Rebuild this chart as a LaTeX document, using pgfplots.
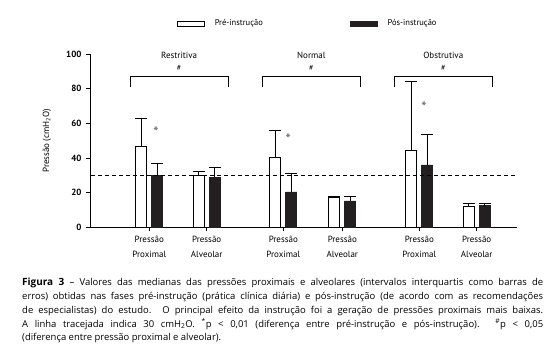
\documentclass[border=0pt]{standalone}
\usepackage{fontspec}
\setmainfont{PT Sans}
\newfontfamily\capfont{Open Sans}
\usepackage{pgfplots}
\usepackage{pgfplotstable}
\pgfplotsset{compat=1.18}
\definecolor{barblack}{RGB}{35,31,32}
\definecolor{astgray}{RGB}{100,100,100}

\pgfplotstableread{
x      y     e
-8     46.5  16.5
49.4   30.0  2.0
126    40.3  15.7
185    17.0  1.0
262    44.5  39.5
319.4  12.3  1.5
}\pretable

\pgfplotstableread{
x      y     e
8      30.0  6.7
65.4   29.0  5.5
142    20.4  10.6
201    15.2  2.8
278    36.0  17.5
335.4  12.4  1.4
}\posttable

\begin{document}
\begin{tikzpicture}
\path[use as bounding box] (0,0) rectangle (558bp,364bp);
\begin{axis}[
  at={(90bp,136.7bp)}, anchor=south west,
  scale only axis, width=426.7bp, height=173.3bp,
  xmin=-59.3, xmax=367.4, ymin=0, ymax=100,
  axis x line=bottom, axis y line=left,
  axis line style={-, line width=0.8pt, black},
  tick align=outside, major tick length=4bp,
  tick style={line width=0.8pt, black},
  ytick={0,20,40,60,80,100},
  yticklabel style={font=\fontsize{9}{10}\selectfont\bfseries, /pgf/number format/assume math mode=true, xshift=-1bp},
  xtick={0,57.4,134,193,270,327.4},
  xticklabels={{Pressão\\Proximal},{Pressão\\Alveolar},{Pressão\\Proximal},{Pressão\\Alveolar},{Pressão\\Proximal},{Pressão\\Alveolar}},
  xticklabel style={align=center, font=\fontsize{9}{15}\selectfont, yshift=-1bp},
  ylabel={Pressão (cmH\textsubscript{2}O)},
  ylabel style={at={(axis description cs:-0.101,0.5)}, anchor=center, font=\fontsize{9}{10}\selectfont},
  clip=false,
  legend columns=2,
  legend style={draw=none, fill=none, at={(rel axis cs:0.2039,1.176)}, anchor=west,
    font=\fontsize{8.5}{10}\selectfont, inner sep=0pt, outer sep=0pt,
    nodes={inner sep=0pt, outer sep=0pt},
    /tikz/every odd column/.append style={column sep=10bp},
    /tikz/every even column/.append style={column sep=87bp}},
]
\addlegendimage{legend image code/.code={\draw[black, fill=white, line width=0.8pt] (0bp,-2.5bp) rectangle (27bp,2.5bp);}}
\addlegendentry{Pré-instrução}
\addlegendimage{legend image code/.code={\draw[barblack, fill=barblack, line width=0.8pt] (0bp,-2.5bp) rectangle (27bp,2.5bp);}}
\addlegendentry{Pós-instrução}
\addplot[forget plot, ybar, bar width=11bp, bar shift=0pt, draw=black, fill=white, line width=0.8pt,
  error bars/.cd, y dir=plus, y explicit,
  error bar style={line width=0.8pt, black},
  error mark options={rotate=90, black, mark size=6bp, line width=0.8pt}]
  table[x=x, y=y, y error=e] {\pretable};
\addplot[forget plot, ybar, bar width=11bp, bar shift=0pt, draw=barblack, fill=barblack, line width=0.8pt,
  error bars/.cd, y dir=plus, y explicit,
  error bar style={line width=0.8pt, black},
  error mark options={rotate=90, black, mark size=6bp, line width=0.8pt}]
  table[x=x, y=y, y error=e] {\posttable};
% reference line at 30
\addplot[forget plot, black, line width=0.8pt, dash pattern=on 4bp off 3bp] coordinates {(-58,30) (367.4,30)};
% brackets
\addplot[forget plot, black, line width=0.8pt] coordinates {(-19.3,81) (-19.3,87) (79,87) (79,81)};
\addplot[forget plot, black, line width=0.8pt] coordinates {(113,81) (113,87) (211,87) (211,81)};
\addplot[forget plot, black, line width=0.8pt] coordinates {(245,81) (245,87) (343,87) (343,81)};
% group labels
\node[font=\fontsize{9}{10}\selectfont] at (axis cs:29.85,99.4) {Restritiva};
\node[font=\fontsize{9}{10}\selectfont] at (axis cs:162,99.4) {Normal};
\node[font=\fontsize{9}{10}\selectfont] at (axis cs:294,99.4) {Obstrutiva};
\node[font=\fontsize{8}{10}\selectfont] at (axis cs:29.85,91.7) {\#};
\node[font=\fontsize{8}{10}\selectfont] at (axis cs:162,91.7) {\#};
\node[font=\fontsize{8}{10}\selectfont] at (axis cs:294,91.7) {\#};
% significance asterisks
\node[font=\fontsize{15}{15}\selectfont, text=astgray] at (axis cs:6.7,55) {*};
\node[font=\fontsize{15}{15}\selectfont, text=astgray] at (axis cs:139,50.7) {*};
\node[font=\fontsize{15}{15}\selectfont, text=astgray] at (axis cs:274.7,69.5) {*};
\end{axis}
\node[anchor=north west, inner sep=0pt, text width=521bp, align=justify,
  font=\capfont\fontsize{9.5}{13.8}\selectfont] at (22bp,86bp)
{{\fontsize{10}{13.8}\selectfont\bfseries Figura 3} – Valores das medianas das pressões proximais e alveolares (intervalos interquartis como barras de\linebreak
erros) obtidas nas fases pré-instrução (prática clínica diária) e pós-instrução (de acordo com as recomendações\linebreak
de especialistas) do estudo. O principal efeito da instrução foi a geração de pressões proximais mais baixas.\linebreak
A linha tracejada indica 30 cmH\textsubscript{2}O. \textsuperscript{*}p < 0,01 (diferença entre pré-instrução e pós-instrução). \textsuperscript{\#}p < 0,05\linebreak
(diferença entre pressão proximal e alveolar).};
\end{tikzpicture}
\end{document}
